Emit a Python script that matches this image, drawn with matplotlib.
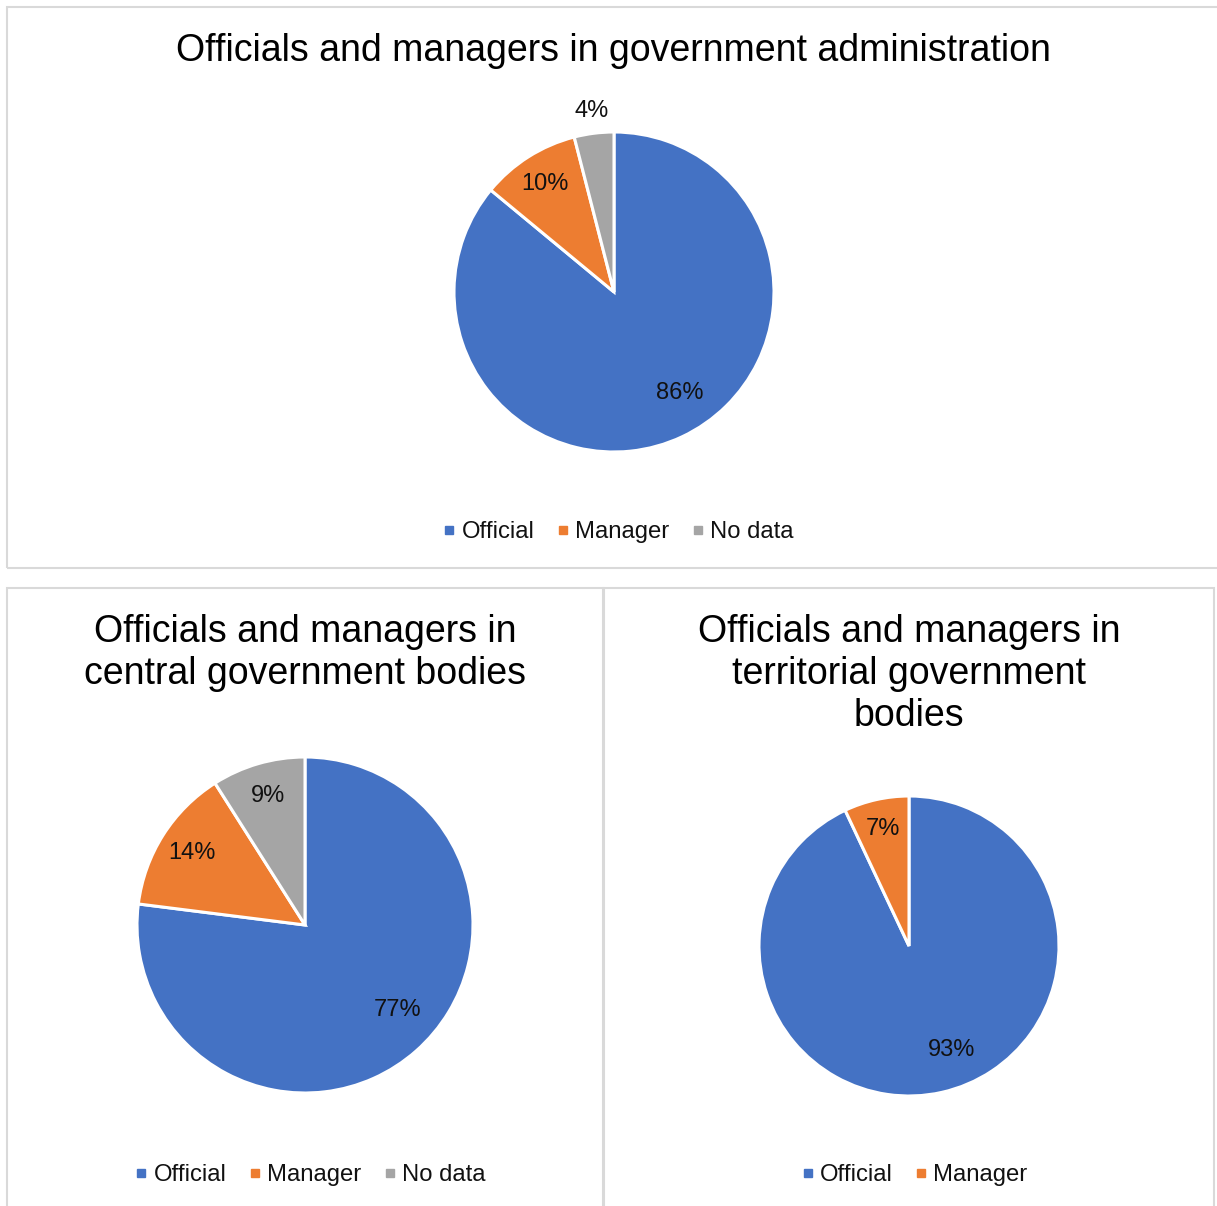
import numpy as np
import matplotlib.pyplot as plt
from matplotlib.patches import Rectangle
from matplotlib.lines import Line2D

plt.rcParams['font.family'] = ['Liberation Sans', 'DejaVu Sans']

# data for the three pies
categories = ['Official', 'Manager', 'No data']
colors = ['#4472C4', '#ED7D31', '#A5A5A5']

admin_title = 'Officials and managers in government administration'
admin_values = [86, 10, 4]

central_title = 'Officials and managers in\ncentral government bodies'
central_values = [77, 14, 9]

territorial_title = 'Officials and managers in\nterritorial government\nbodies'
territorial_values = [93, 7]

W, H = 1217, 1206
fig = plt.figure(figsize=(W / 100, H / 100), dpi=100)


def fx(x):
    return x / W


def fy(y):
    return 1 - y / H


def panel(x0, y0, x1, y1):
    fig.patches.append(Rectangle((fx(x0), fy(y1)), fx(x1) - fx(x0), fy(y0) - fy(y1),
                                 transform=fig.transFigure, fill=False,
                                 edgecolor='#d9d9d9', linewidth=1.5))


def draw_pie(cx, cy, r, values):
    ax = fig.add_axes([fx(cx - r), fy(cy + r), fx(2 * r), (2 * r) / H])
    wedges, _ = ax.pie(values, colors=colors[:len(values)], startangle=90,
                       counterclock=False, radius=1,
                       wedgeprops=dict(edgecolor='white', linewidth=2.2))
    ax.set_xlim(-1, 1)
    ax.set_ylim(-1, 1)
    ax.set_aspect('equal')
    ax.axis('off')
    total = sum(values)
    for w, v in zip(wedges, values):
        frac = v / total
        mid = (w.theta1 + w.theta2) / 2
        if frac < 0.05:
            d = 1.14
        elif frac > 0.5:
            # big slice: nudge the label a little toward the right side
            d = 0.75
            mid = mid + 22 * (frac - 0.5)
        else:
            d = 0.8
        a = np.deg2rad(mid)
        ax.text(d * np.cos(a), d * np.sin(a), f'{v}%', ha='center', va='center',
                fontsize=17, color='#111111', clip_on=False)
    return ax


def legend(cx, cy, n):
    handles = [Line2D([], [], marker='s', linestyle='', markersize=5.5,
                      markerfacecolor=colors[i], markeredgecolor=colors[i])
               for i in range(n)]
    fig.legend(handles, categories[:n], loc='center', bbox_to_anchor=(fx(cx), fy(cy)),
               ncol=n, frameon=False, fontsize=17.2, handlelength=0.4,
               handletextpad=0.3, columnspacing=1.0, labelcolor='#111111')


# panel frames
panel(7, 7, 1222, 568)
panel(7, 588, 603, 1220)
panel(604, 588, 1214, 1220)

# top: whole administration
fig.text(fx(613), fy(51), admin_title, ha='center', va='center', fontsize=27)
draw_pie(614, 292, 160, admin_values)
legend(619, 532, 3)

# bottom left: central bodies
fig.text(fx(305), fy(653), central_title, ha='center', va='center', fontsize=27,
         linespacing=1.22)
draw_pie(305, 925, 168, central_values)
legend(311, 1175, 3)

# bottom right: territorial bodies
fig.text(fx(909), fy(674), territorial_title, ha='center', va='center', fontsize=27,
         linespacing=1.22)
draw_pie(909, 946, 150, territorial_values)
legend(915, 1175, 2)

fig.savefig('out.png', dpi=100, facecolor='white')
